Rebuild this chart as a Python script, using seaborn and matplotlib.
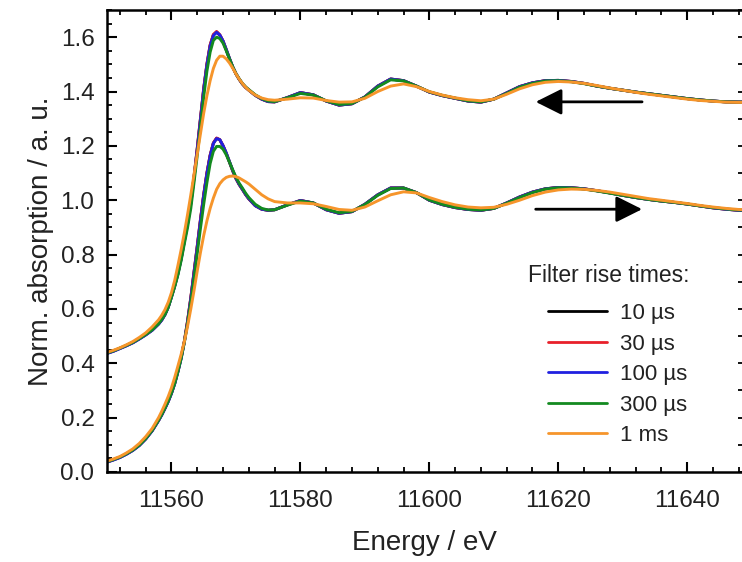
import numpy as np
import pandas as pd
import matplotlib
matplotlib.use("Agg")
import matplotlib.pyplot as plt
from matplotlib.ticker import MultipleLocator
from matplotlib.lines import Line2D
import seaborn as sns

# ---------------- data ----------------
energy = [11550, 11551, 11552, 11553, 11554, 11555, 11556, 11557,
          11558, 11558.5, 11559, 11559.5, 11560, 11560.5, 11561, 11561.5, 11562, 11562.5,
          11563, 11563.5, 11564, 11564.5, 11565, 11565.5, 11566, 11566.5, 11567, 11567.5,
          11568, 11568.5, 11569, 11569.5, 11570, 11570.5, 11571, 11571.5, 11572,
          11573, 11574, 11575, 11576,
          11578, 11580, 11582, 11584, 11586, 11588, 11590, 11592, 11594, 11596,
          11598, 11600, 11602, 11604, 11606, 11608, 11610, 11612, 11614, 11616,
          11618, 11620, 11622, 11624, 11626, 11628, 11630, 11632, 11634, 11636,
          11638, 11640, 11642, 11644, 11646, 11648, 11650]

series_labels = ["10 µs", "30 µs", "100 µs", "300 µs", "1 ms"]

# forward scan (lower set of spectra)
fwd_10us = [0.037, 0.045, 0.054, 0.066, 0.080, 0.098, 0.122, 0.152,
            0.190, 0.211, 0.235, 0.260, 0.290, 0.326, 0.370, 0.420, 0.480, 0.555,
            0.640, 0.735, 0.830, 0.928, 1.020, 1.100, 1.165, 1.210, 1.228, 1.222,
            1.200, 1.172, 1.140, 1.108, 1.080, 1.058, 1.040, 1.021, 1.005,
            0.980, 0.967, 0.963, 0.965,
            0.983, 0.999, 0.990, 0.965, 0.952, 0.958, 0.985, 1.020, 1.045, 1.045,
            1.028, 1.000, 0.984, 0.973, 0.966, 0.963, 0.970, 0.990, 1.012, 1.030,
            1.042, 1.047, 1.046, 1.042, 1.035, 1.027, 1.018, 1.010, 1.003, 0.997,
            0.992, 0.986, 0.979, 0.972, 0.967, 0.963, 0.962]
fwd_30us = [0.037, 0.045, 0.054, 0.066, 0.080, 0.098, 0.122, 0.152,
            0.190, 0.211, 0.235, 0.261, 0.291, 0.327, 0.371, 0.422, 0.482, 0.557,
            0.642, 0.737, 0.832, 0.930, 1.021, 1.101, 1.166, 1.211, 1.229, 1.223,
            1.201, 1.173, 1.141, 1.108, 1.080, 1.058, 1.040, 1.021, 1.005,
            0.980, 0.967, 0.963, 0.965,
            0.983, 0.999, 0.990, 0.965, 0.952, 0.958, 0.985, 1.020, 1.045, 1.045,
            1.028, 1.000, 0.984, 0.973, 0.966, 0.963, 0.970, 0.990, 1.012, 1.030,
            1.042, 1.047, 1.046, 1.042, 1.035, 1.027, 1.018, 1.010, 1.003, 0.997,
            0.992, 0.986, 0.979, 0.972, 0.967, 0.963, 0.962]
fwd_100us = [0.036, 0.044, 0.053, 0.065, 0.079, 0.097, 0.121, 0.151,
             0.189, 0.210, 0.234, 0.259, 0.289, 0.324, 0.368, 0.417, 0.478, 0.552,
             0.637, 0.731, 0.826, 0.924, 1.016, 1.097, 1.163, 1.209, 1.227, 1.223,
             1.201, 1.174, 1.142, 1.110, 1.081, 1.059, 1.041, 1.022, 1.006,
             0.980, 0.967, 0.963, 0.965,
             0.983, 0.999, 0.990, 0.965, 0.952, 0.958, 0.985, 1.020, 1.045, 1.045,
             1.028, 1.000, 0.984, 0.973, 0.966, 0.963, 0.970, 0.990, 1.012, 1.030,
             1.042, 1.047, 1.046, 1.042, 1.035, 1.027, 1.018, 1.010, 1.003, 0.997,
             0.992, 0.986, 0.979, 0.972, 0.967, 0.963, 0.962]
fwd_300us = [0.038, 0.046, 0.055, 0.067, 0.081, 0.099, 0.123, 0.153,
             0.191, 0.212, 0.236, 0.262, 0.291, 0.326, 0.370, 0.418, 0.478, 0.547,
             0.625, 0.713, 0.805, 0.897, 0.985, 1.065, 1.135, 1.180, 1.198, 1.198,
             1.188, 1.167, 1.140, 1.112, 1.085, 1.063, 1.045, 1.026, 1.010,
             0.985, 0.970, 0.964, 0.965,
             0.982, 0.997, 0.990, 0.967, 0.954, 0.959, 0.984, 1.018, 1.043, 1.045,
             1.028, 1.001, 0.985, 0.974, 0.967, 0.964, 0.970, 0.989, 1.010, 1.028,
             1.041, 1.046, 1.045, 1.041, 1.034, 1.026, 1.018, 1.010, 1.003, 0.997,
             0.992, 0.986, 0.979, 0.973, 0.968, 0.964, 0.963]
fwd_1ms = [0.040, 0.048, 0.057, 0.070, 0.085, 0.105, 0.130, 0.160,
           0.200, 0.224, 0.250, 0.278, 0.310, 0.348, 0.390, 0.433, 0.480, 0.537,
           0.600, 0.668, 0.740, 0.808, 0.870, 0.924, 0.970, 1.008, 1.040, 1.061,
           1.075, 1.084, 1.088, 1.089, 1.087, 1.082, 1.075, 1.068, 1.060,
           1.040, 1.020, 1.005, 0.995,
           0.990, 0.990, 0.987, 0.977, 0.966, 0.963, 0.975, 0.998, 1.020, 1.031,
           1.027, 1.010, 0.995, 0.983, 0.975, 0.972, 0.974, 0.985, 1.000, 1.017,
           1.030, 1.038, 1.041, 1.040, 1.036, 1.030, 1.022, 1.014, 1.006, 1.000,
           0.994, 0.988, 0.981, 0.975, 0.970, 0.966, 0.964]

# backward scan (upper set of spectra)
bwd_10us = [0.437, 0.445, 0.455, 0.465, 0.476, 0.490, 0.505, 0.522,
            0.545, 0.560, 0.580, 0.607, 0.645, 0.685, 0.730, 0.785, 0.850, 0.915,
            0.990, 1.085, 1.190, 1.300, 1.410, 1.500, 1.570, 1.608, 1.619, 1.607,
            1.585, 1.553, 1.520, 1.490, 1.465, 1.445, 1.428, 1.415, 1.405,
            1.386, 1.372, 1.363, 1.362,
            1.378, 1.396, 1.388, 1.365, 1.350, 1.355, 1.380, 1.420, 1.446, 1.440,
            1.420, 1.398, 1.385, 1.375, 1.365, 1.361, 1.372, 1.395, 1.418, 1.432,
            1.440, 1.441, 1.437, 1.430, 1.420, 1.412, 1.405, 1.398, 1.392, 1.386,
            1.380, 1.374, 1.369, 1.365, 1.362, 1.361, 1.361]
bwd_30us = [0.437, 0.445, 0.455, 0.465, 0.476, 0.490, 0.505, 0.522,
            0.545, 0.560, 0.580, 0.608, 0.646, 0.686, 0.732, 0.787, 0.852, 0.917,
            0.992, 1.087, 1.192, 1.302, 1.412, 1.502, 1.572, 1.610, 1.621, 1.609,
            1.586, 1.554, 1.521, 1.490, 1.465, 1.445, 1.428, 1.415, 1.405,
            1.386, 1.372, 1.363, 1.362,
            1.378, 1.396, 1.388, 1.365, 1.350, 1.355, 1.380, 1.420, 1.446, 1.440,
            1.420, 1.398, 1.385, 1.375, 1.365, 1.361, 1.372, 1.395, 1.418, 1.432,
            1.440, 1.441, 1.437, 1.430, 1.420, 1.412, 1.405, 1.398, 1.392, 1.386,
            1.380, 1.374, 1.369, 1.365, 1.362, 1.361, 1.361]
bwd_100us = [0.436, 0.444, 0.454, 0.464, 0.475, 0.489, 0.504, 0.521,
             0.544, 0.559, 0.579, 0.606, 0.644, 0.684, 0.729, 0.783, 0.848, 0.912,
             0.986, 1.081, 1.186, 1.296, 1.406, 1.497, 1.567, 1.606, 1.618, 1.608,
             1.586, 1.555, 1.522, 1.491, 1.466, 1.446, 1.429, 1.416, 1.406,
             1.386, 1.372, 1.363, 1.362,
             1.378, 1.396, 1.388, 1.365, 1.350, 1.355, 1.380, 1.420, 1.446, 1.440,
             1.420, 1.398, 1.385, 1.375, 1.365, 1.361, 1.372, 1.395, 1.418, 1.432,
             1.440, 1.441, 1.437, 1.430, 1.420, 1.412, 1.405, 1.398, 1.392, 1.386,
             1.380, 1.374, 1.369, 1.365, 1.362, 1.361, 1.361]
bwd_300us = [0.438, 0.446, 0.456, 0.466, 0.477, 0.491, 0.506, 0.523,
             0.546, 0.562, 0.580, 0.606, 0.643, 0.682, 0.725, 0.778, 0.840, 0.900,
             0.970, 1.065, 1.165, 1.272, 1.380, 1.475, 1.545, 1.588, 1.600, 1.595,
             1.578, 1.550, 1.520, 1.491, 1.466, 1.447, 1.430, 1.417, 1.407,
             1.388, 1.374, 1.365, 1.363,
             1.377, 1.393, 1.387, 1.366, 1.352, 1.356, 1.379, 1.417, 1.443, 1.439,
             1.420, 1.399, 1.386, 1.376, 1.366, 1.362, 1.372, 1.393, 1.416, 1.430,
             1.439, 1.440, 1.436, 1.429, 1.420, 1.412, 1.405, 1.398, 1.392, 1.386,
             1.380, 1.374, 1.369, 1.365, 1.362, 1.361, 1.361]
bwd_1ms = [0.440, 0.448, 0.457, 0.468, 0.480, 0.495, 0.512, 0.534,
           0.560, 0.577, 0.598, 0.625, 0.660, 0.705, 0.760, 0.818, 0.880, 0.948,
           1.020, 1.095, 1.170, 1.245, 1.320, 1.385, 1.440, 1.485, 1.515, 1.530,
           1.530, 1.520, 1.505, 1.486, 1.465, 1.446, 1.430, 1.416, 1.405,
           1.387, 1.376, 1.370, 1.368,
           1.372, 1.377, 1.376, 1.367, 1.361, 1.362, 1.375, 1.400, 1.420, 1.428,
           1.418, 1.400, 1.387, 1.377, 1.370, 1.366, 1.372, 1.390, 1.410, 1.425,
           1.434, 1.437, 1.435, 1.430, 1.422, 1.413, 1.405, 1.397, 1.390, 1.384,
           1.378, 1.372, 1.367, 1.364, 1.361, 1.360, 1.360]

series_colors = ["#000000", "#e8202a", "#2020e0", "#138a20", "#f6952b"]

# scan-direction arrows: (start energy, end energy, level)
arrow_back = [11633.0, 11616.5, 1.362]
arrow_fwd = [11616.5, 11633.0, 0.967]

x_major_ticks = [11560, 11580, 11600, 11620, 11640]
y_major_ticks = [0.0, 0.2, 0.4, 0.6, 0.8, 1.0, 1.2, 1.4, 1.6]

# ---------------- build long-form table ----------------
fwd = [fwd_10us, fwd_30us, fwd_100us, fwd_300us, fwd_1ms]
bwd = [bwd_10us, bwd_30us, bwd_100us, bwd_300us, bwd_1ms]
rows = []
for lab, f, b in zip(series_labels, fwd, bwd):
    assert len(f) == len(energy) and len(b) == len(energy), lab
    for e, v in zip(energy, f):
        rows.append((e, v, lab, "forward"))
    for e, v in zip(energy, b):
        rows.append((e, v, lab, "backward"))
df = pd.DataFrame(rows, columns=["energy", "absorption", "filter", "scan"])

# ---------------- plot ----------------
sns.set_style("ticks")
plt.rcParams["font.family"] = ["Liberation Sans", "DejaVu Sans"]

W, H = 742, 562
fig = plt.figure(figsize=(W / 100, H / 100), dpi=100)
ax = fig.add_axes([107 / W, (H - 472) / H, (W - 107) / W, (472 - 10) / H])

palette = dict(zip(series_labels, series_colors))
sns.lineplot(data=df, x="energy", y="absorption", hue="filter", units="scan",
             estimator=None, sort=False, palette=palette, hue_order=series_labels,
             linewidth=2.1, legend=False, ax=ax)

ax.set_xlim(11550, 11648.5)
ax.set_ylim(0.0, 1.7)
ax.set_xticks(x_major_ticks)
ax.set_yticks(y_major_ticks)
ax.set_yticklabels([f"{t:.1f}" for t in y_major_ticks])
ax.xaxis.set_minor_locator(MultipleLocator(4))
ax.yaxis.set_minor_locator(MultipleLocator(0.05))

for s in ["left", "bottom", "top"]:
    ax.spines[s].set_linewidth(1.8)
    ax.spines[s].set_color("black")
ax.spines["right"].set_visible(False)

ax.tick_params(axis="both", which="both", direction="in", top=True, right=False,
               color="black", labelsize=17.5, labelcolor="#222222")
ax.tick_params(axis="both", which="major", length=7, width=1.5)
ax.tick_params(axis="both", which="minor", length=3.5, width=1.3)
ax.tick_params(axis="x", which="major", pad=13)
ax.tick_params(axis="y", which="major", pad=9)

# right-hand ticks (spine lies just outside the cropped figure)
axr = ax.twinx()
axr.set_ylim(ax.get_ylim())
axr.yaxis.set_major_locator(MultipleLocator(0.1))
axr.tick_params(axis="y", direction="in", length=3, width=1.3, labelright=False, color="black")
for s in axr.spines.values():
    s.set_visible(False)

ax.set_xlabel("Energy / eV", fontsize=20, color="#222222", labelpad=13)
ax.set_ylabel("Norm. absorption / a. u.", fontsize=20, color="#222222", labelpad=5)

# arrows
for a in (arrow_back, arrow_fwd):
    ax.annotate("", xy=(a[1], a[2]), xytext=(a[0], a[2]),
                arrowprops=dict(arrowstyle="-|>,head_length=0.8,head_width=0.4",
                                lw=2.0, color="black", shrinkA=0, shrinkB=0,
                                mutation_scale=20))

# legend
handles = [Line2D([0], [0], color=c, lw=2.0) for c in series_colors]
leg = ax.legend(handles, series_labels, loc="upper left",
                bbox_to_anchor=((548 - 107) / 635, (472 - 303) / 462),
                frameon=False, fontsize=16, handlelength=2.65, handletextpad=0.6,
                labelspacing=0.43, borderpad=0, borderaxespad=0)
for t in leg.get_texts():
    t.set_color("#222222")
ax.text((528 - 107) / 635, (472 - 282) / 462, "Filter rise times:", transform=ax.transAxes,
        fontsize=16.5, color="#222222", va="baseline", ha="left")

fig.savefig("out.png", dpi=100)
